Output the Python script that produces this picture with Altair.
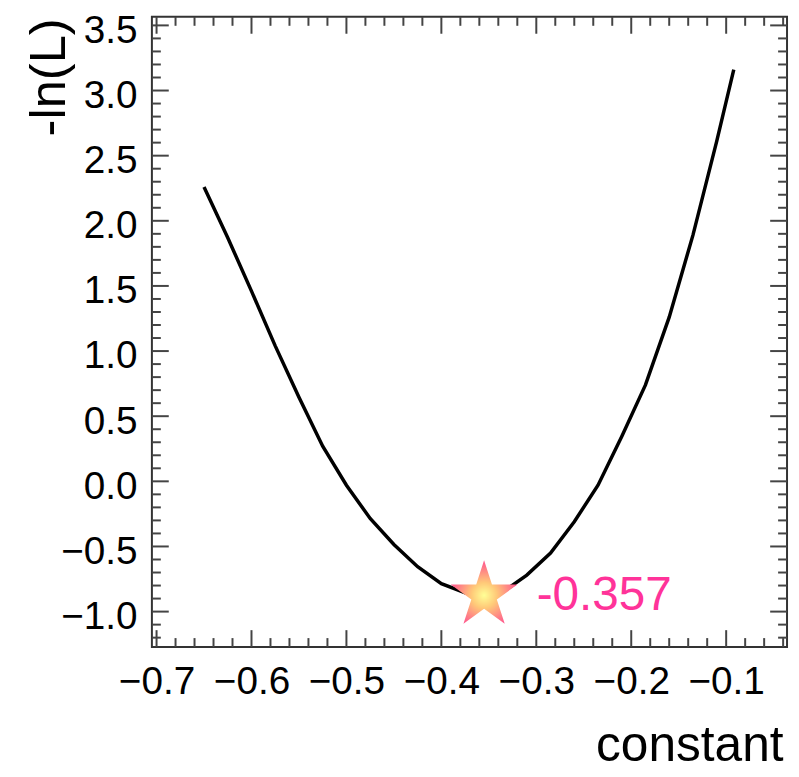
import math
import altair as alt
import pandas as pd

# ---- data ----
curve_x = [-0.65, -0.625, -0.60, -0.575, -0.55, -0.525, -0.50, -0.475, -0.45, -0.425,
           -0.40, -0.375, -0.355, -0.335, -0.31, -0.285, -0.26, -0.235, -0.21, -0.185,
           -0.16, -0.135, -0.11, -0.092]
curve_y = [2.26, 1.87, 1.46, 1.04, 0.645, 0.27, -0.03, -0.285, -0.485, -0.655,
           -0.785, -0.855, -0.875, -0.848, -0.72, -0.55, -0.31, -0.03, 0.345, 0.74,
           1.26, 1.89, 2.61, 3.16]

best_x = [-0.355]
best_y = [-0.875]
best_label = ["-0.357"]

major_x = [-0.7, -0.6, -0.5, -0.4, -0.3, -0.2, -0.1]
minor_x = [round(-0.70 + 0.02 * i, 2) for i in range(34) if i % 5 != 0]
major_y = [-1.0, -0.5, 0.0, 0.5, 1.0, 1.5, 2.0, 2.5, 3.0, 3.5]
minor_y = [round(-1.2 + 0.1 * i, 1) for i in range(48) if (i - 2) % 5 != 0]

x_domain = [-0.7049, -0.0359]
y_domain = [-1.272, 3.5655]

W, H = 640, 635
FONT = "Liberation Sans"
MAJ, MIN = 17, 9
TICK_COLOR = "#444444"

xs = alt.Scale(domain=x_domain, nice=False, zero=False)
ys = alt.Scale(domain=y_domain, nice=False, zero=False)

curve_df = pd.DataFrame({"x": curve_x, "y": curve_y})
best_df = pd.DataFrame({"x": best_x, "y": best_y, "label": best_label})
mjx = pd.DataFrame({"v": major_x})
mnx = pd.DataFrame({"v": minor_x})
mjy = pd.DataFrame({"v": major_y})
mny = pd.DataFrame({"v": minor_y})

x_axis = alt.Axis(values=major_x, format=".1f", domain=False, ticks=False, tickSize=0,
                  grid=False, labelFont=FONT, labelFontSize=39, labelColor="black",
                  labelPadding=16, labelFlush=False, labelOverlap=False,
                  title="constant", titleFont=FONT, titleFontSize=50,
                  titleFontWeight="normal", titleColor="black",
                  titleAlign="right", titleBaseline="alphabetic", titleAngle=0,
                  titleX=636, titleY=114)
y_axis = alt.Axis(values=major_y, format=".1f", domain=False, ticks=False, tickSize=0,
                  grid=False, labelFont=FONT, labelFontSize=39, labelColor="black",
                  labelPadding=15, labelOffset=5, labelFlush=False, labelOverlap=False,
                  title="-ln(L)", titleFont=FONT, titleFontSize=51,
                  titleFontWeight="normal", titleColor="black",
                  titleAlign="right", titleBaseline="alphabetic", titleAngle=270,
                  titleX=-88, titleY=1)


def X(field):
    return alt.X(field, scale=xs, axis=x_axis)


def Y(field):
    return alt.Y(field, scale=ys, axis=y_axis)


curve = alt.Chart(curve_df).mark_line(color="black", strokeWidth=3.5, clip=True).encode(
    x=X("x:Q"), y=Y("y:Q"), order="x:Q",
)


def xticks(df, length):
    bottom = alt.Chart(df).mark_rule(color=TICK_COLOR, strokeWidth=2).encode(
        x=X("v:Q"), y=alt.value(H), y2=alt.value(H - length))
    top = alt.Chart(df).mark_rule(color=TICK_COLOR, strokeWidth=2).encode(
        x=X("v:Q"), y=alt.value(0), y2=alt.value(length))
    return [bottom, top]


def yticks(df, length):
    left = alt.Chart(df).mark_rule(color=TICK_COLOR, strokeWidth=2).encode(
        y=Y("v:Q"), x=alt.value(0), x2=alt.value(length))
    right = alt.Chart(df).mark_rule(color=TICK_COLOR, strokeWidth=2).encode(
        y=Y("v:Q"), x=alt.value(W), x2=alt.value(W - length))
    return [left, right]


tick_layers = xticks(mjx, MAJ) + xticks(mnx, MIN) + yticks(mjy, MAJ) + yticks(mny, MIN)

# 5-pointed star path in the unit box
pts = []
for k in range(10):
    ang = math.radians(-90 + 36 * k)
    r = 1.0 if k % 2 == 0 else 0.382
    pts.append(f"{r * math.cos(ang):.4f},{r * math.sin(ang):.4f}")
star_path = "M" + "L".join(pts) + "Z"

gradient = {
    "gradient": "radial",
    "x1": 0.5, "y1": 0.55, "r1": 0,
    "x2": 0.5, "y2": 0.55, "r2": 0.55,
    "stops": [
        {"offset": 0.0, "color": "#ffff96"},
        {"offset": 0.35, "color": "#ffc878"},
        {"offset": 0.75, "color": "#ff7888"},
        {"offset": 1.0, "color": "#ff4a90"},
    ],
}

star = alt.Chart(best_df).mark_point(
    shape=star_path, size=5000, filled=True, fill=gradient, strokeWidth=0, opacity=1
).encode(x=X("x:Q"), y=Y("y:Q"))

label = alt.Chart(best_df).mark_text(
    color="#ff3399", font=FONT, fontSize=48, align="left", baseline="alphabetic",
    dx=53, dy=15
).encode(x=X("x:Q"), y=Y("y:Q"), text="label:N")

chart = alt.layer(curve, *tick_layers, star, label).properties(
    width=W, height=H,
    autosize=alt.AutoSizeParams(type="none"),
    padding={"left": 145, "top": 6, "right": 4, "bottom": 124},
    background="white",
).configure_view(stroke="#333333", strokeWidth=2)

chart.save("out.html", embed_options={"renderer": "svg", "actions": False})
